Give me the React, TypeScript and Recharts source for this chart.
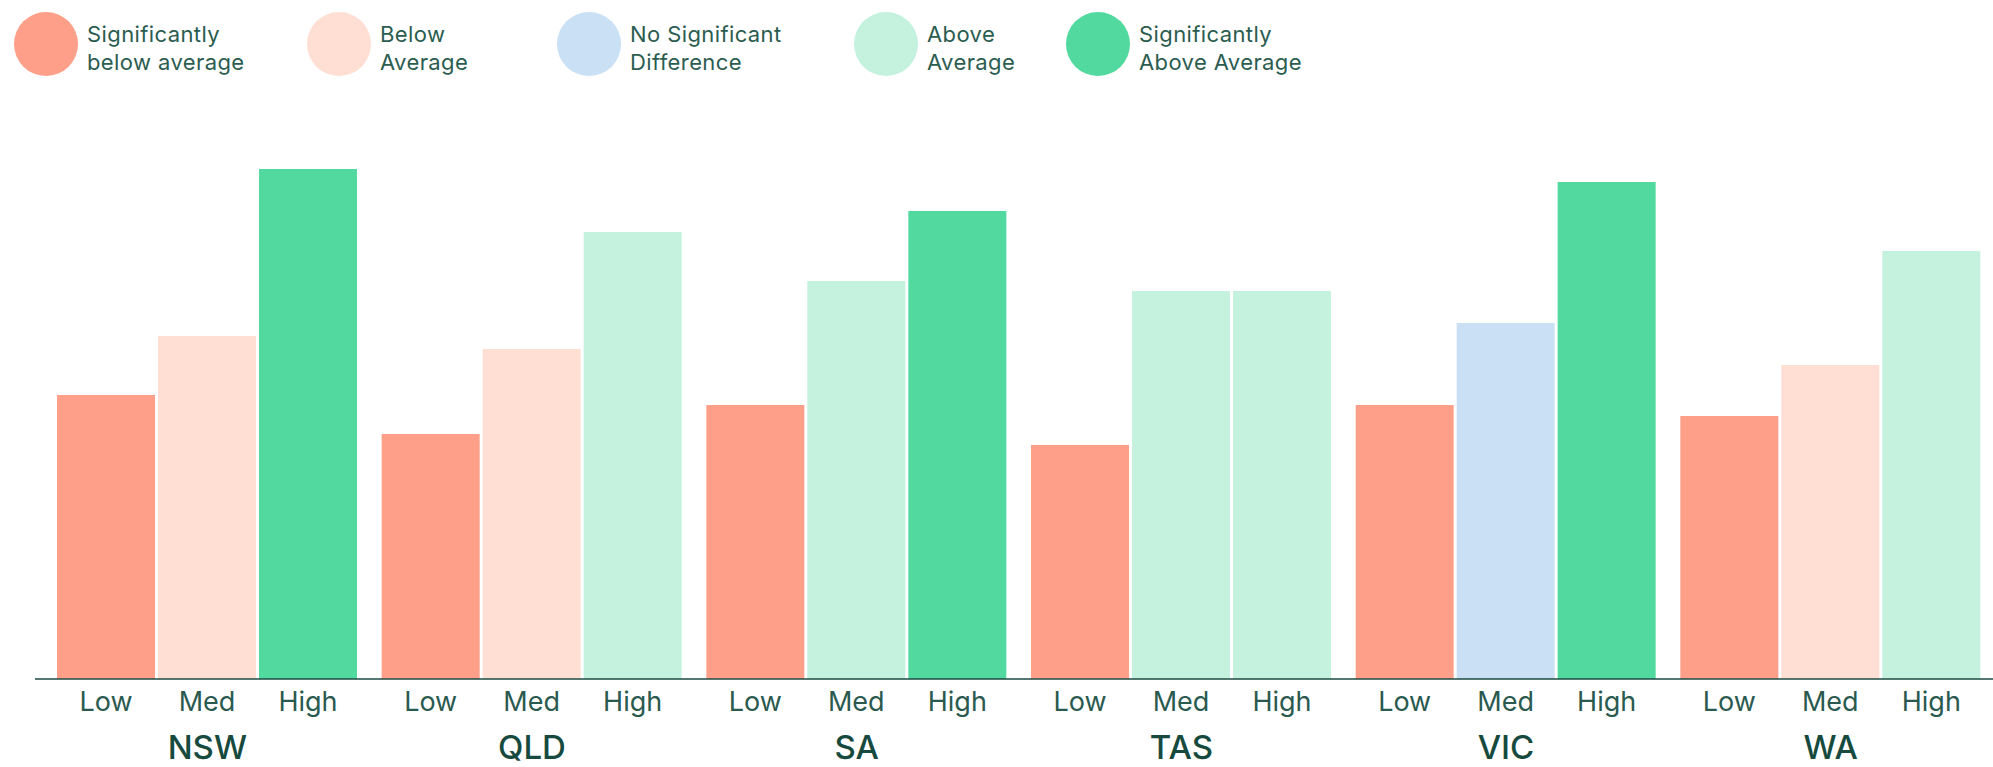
import { BarChart, Bar, XAxis, YAxis, Cell, LabelList } from 'recharts';

const states = ['NSW', 'QLD', 'SA', 'TAS', 'VIC', 'WA'];
const levels = ['Low', 'Med', 'High'];

const lowValues = [28.4, 24.5, 27.4, 23.4, 27.4, 26.3];
const medValues = [34.3, 33.0, 39.8, 38.8, 35.6, 31.4];
const highValues = [51.0, 44.7, 46.8, 38.8, 49.7, 42.8];

// index into resultLabels / resultColors
const lowResult = [0, 0, 0, 0, 0, 0];
const medResult = [1, 1, 3, 3, 2, 1];
const highResult = [4, 3, 4, 3, 4, 3];

const resultLabels = [
    ['Significantly', 'below average'],
    ['Below', 'Average'],
    ['No Significant', 'Difference'],
    ['Above', 'Average'],
    ['Significantly', 'Above Average'],
];
const resultColors = ['#FE9F89', '#FFDFD3', '#CAE0F4', '#C4F2DF', '#52D9A0'];

const legendLeft = [14, 307, 557, 854, 1066];

const data = states.map((state, i) => ({
    state,
    Low: lowValues[i],
    Med: medValues[i],
    High: highValues[i],
}));

const series = [
    { key: 'Low', result: lowResult },
    { key: 'Med', result: medResult },
    { key: 'High', result: highResult },
];

const FONT = 'Inter, "Noto Sans", sans-serif';

function StateTick({ x, y, payload }: any) {
    return (
        <text x={x} y={y} dy="0.71em" textAnchor="middle" fontSize={33} fontWeight={500} fill="#174a3e" fontFamily={FONT}>
            {payload.value}
        </text>
    );
}

function ResultLegend() {
    return (
        <div style={{ position: 'absolute', top: 0, left: 0, width: 1993, height: 90 }}>
            {resultLabels.map((lines, i) => (
                <div key={i} style={{ position: 'absolute', left: legendLeft[i], top: 12 }}>
                    <div style={{ width: 64, height: 64, borderRadius: '50%', background: resultColors[i] }} />
                    <div
                        style={{
                            position: 'absolute',
                            left: 73,
                            top: 8,
                            fontSize: 22,
                            letterSpacing: 0.4,
                            lineHeight: '28px',
                            color: '#2b5c50',
                            whiteSpace: 'nowrap',
                        }}
                    >
                        {lines[0]}
                        <br />
                        {lines[1]}
                    </div>
                </div>
            ))}
        </div>
    );
}

export default function App() {
    return (
        <div style={{ position: 'absolute', top: 0, left: 0, width: 1993, height: 767, fontFamily: FONT, background: '#fff' }}>
            <ResultLegend />
            <BarChart
                width={1993}
                height={767}
                data={data}
                margin={{ top: 159, right: 0, bottom: 58, left: 35 }}
                barCategoryGap={12}
                barGap={3}
            >
                <XAxis
                    dataKey="state"
                    height={30}
                    padding={{ left: 10, right: 0 }}
                    axisLine={{ stroke: '#1c4a42', strokeWidth: 1.5 }}
                    tickLine={false}
                    tickSize={0}
                    tickMargin={57}
                    tick={<StateTick />}
                    interval={0}
                />
                <YAxis hide domain={[0, 52]} />
                {series.map((s, si) => (
                    <Bar key={s.key} dataKey={s.key} isAnimationActive={false}>
                        {s.result.map((r, i) => (
                            <Cell key={i} fill={resultColors[r]} />
                        ))}
                        <LabelList
                            dataKey={s.key}
                            position="bottom"
                            offset={13}
                            formatter={() => levels[si]}
                            fill="#2a5a4f"
                            fontSize={27}
                            fontFamily={FONT}
                        />
                    </Bar>
                ))}
            </BarChart>
        </div>
    );
}
